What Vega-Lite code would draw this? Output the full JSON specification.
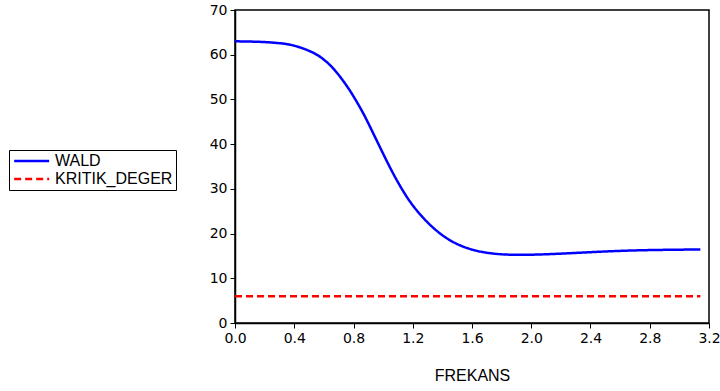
{
  "$schema": "https://vega.github.io/schema/vega-lite/v6.json",
  "width": 474,
  "height": 313,
  "autosize": {"type": "none"},
  "padding": {"left": 235, "top": 10, "right": 11, "bottom": 68},
  "background": "white",
  "config": {
    "font": "Liberation Sans",
    "view": {"stroke": "#000000", "strokeWidth": 1.5},
    "axis": {"grid": false, "domainColor": "#000000", "domainWidth": 1.5, "tickColor": "#000000", "tickSize": 5, "labelFont": "DejaVu Sans", "labelFontSize": 14, "labelColor": "#000000", "titleFont": "Liberation Sans", "titleFontSize": 16, "titleFontWeight": "normal", "titleColor": "#000000"}
  },
  "data": {"values": [
    {"f": 0.0, "series": "WALD", "v": 63.0},
    {"f": 0.1, "series": "WALD", "v": 62.95},
    {"f": 0.2, "series": "WALD", "v": 62.85},
    {"f": 0.3, "series": "WALD", "v": 62.6},
    {"f": 0.372, "series": "WALD", "v": 62.3},
    {"f": 0.45, "series": "WALD", "v": 61.55},
    {"f": 0.507, "series": "WALD", "v": 60.8},
    {"f": 0.56, "series": "WALD", "v": 59.9},
    {"f": 0.597, "series": "WALD", "v": 59.0},
    {"f": 0.64, "series": "WALD", "v": 57.8},
    {"f": 0.688, "series": "WALD", "v": 56.0},
    {"f": 0.73, "series": "WALD", "v": 54.2},
    {"f": 0.778, "series": "WALD", "v": 51.9},
    {"f": 0.82, "series": "WALD", "v": 49.6},
    {"f": 0.87, "series": "WALD", "v": 46.7},
    {"f": 0.913, "series": "WALD", "v": 43.8},
    {"f": 0.97, "series": "WALD", "v": 39.9},
    {"f": 1.026, "series": "WALD", "v": 36.1},
    {"f": 1.08, "series": "WALD", "v": 32.6},
    {"f": 1.138, "series": "WALD", "v": 29.3},
    {"f": 1.183, "series": "WALD", "v": 27.0},
    {"f": 1.24, "series": "WALD", "v": 24.6},
    {"f": 1.296, "series": "WALD", "v": 22.6},
    {"f": 1.35, "series": "WALD", "v": 20.9},
    {"f": 1.408, "series": "WALD", "v": 19.4},
    {"f": 1.465, "series": "WALD", "v": 18.2},
    {"f": 1.521, "series": "WALD", "v": 17.3},
    {"f": 1.58, "series": "WALD", "v": 16.6},
    {"f": 1.634, "series": "WALD", "v": 16.1},
    {"f": 1.69, "series": "WALD", "v": 15.75},
    {"f": 1.746, "series": "WALD", "v": 15.5},
    {"f": 1.8, "series": "WALD", "v": 15.35},
    {"f": 1.87, "series": "WALD", "v": 15.25},
    {"f": 1.95, "series": "WALD", "v": 15.25},
    {"f": 2.05, "series": "WALD", "v": 15.3},
    {"f": 2.2, "series": "WALD", "v": 15.5},
    {"f": 2.37, "series": "WALD", "v": 15.8},
    {"f": 2.535, "series": "WALD", "v": 16.05},
    {"f": 2.7, "series": "WALD", "v": 16.25},
    {"f": 2.874, "series": "WALD", "v": 16.35},
    {"f": 3.0, "series": "WALD", "v": 16.4},
    {"f": 3.1416, "series": "WALD", "v": 16.45},
    {"f": 0.0, "series": "KRITIK_DEGER", "v": 5.99},
    {"f": 3.1416, "series": "KRITIK_DEGER", "v": 5.99}
  ]},
  "mark": {"type": "line", "strokeWidth": 2.5, "interpolate": "basis", "clip": true},
  "encoding": {
    "x": {"field": "f", "type": "quantitative", "title": "FREKANS",
      "scale": {"domain": [0, 3.2], "nice": false, "zero": false},
      "axis": {"values": [0, 0.4, 0.8, 1.2, 1.6, 2.0, 2.4, 2.8, 3.2], "format": ".1f", "titlePadding": 22, "labelPadding": 3, "labelFlush": false}},
    "y": {"field": "v", "type": "quantitative", "title": null,
      "scale": {"domain": [0, 70], "nice": false},
      "axis": {"values": [0, 10, 20, 30, 40, 50, 60, 70], "labelPadding": 3}},
    "color": {"field": "series", "type": "nominal", "title": null,
      "scale": {"domain": ["WALD", "KRITIK_DEGER"], "range": ["#0000FF", "#FF0000"]},
      "legend": {"orient": "none", "legendX": -226, "legendY": 140, "strokeColor": "#000000", "padding": 3, "labelFont": "Liberation Sans", "labelFontSize": 16, "labelColor": "#000000", "symbolType": "M-1,0H5", "symbolSize": 136, "symbolStrokeWidth": 2.5, "symbolFillColor": "transparent", "rowPadding": 2, "labelOffset": 27, "fillColor": "white"}},
    "strokeDash": {"field": "series", "type": "nominal", "title": null,
      "scale": {"domain": ["WALD", "KRITIK_DEGER"], "range": [[1, 0], [7, 4]]}}
  }
}
